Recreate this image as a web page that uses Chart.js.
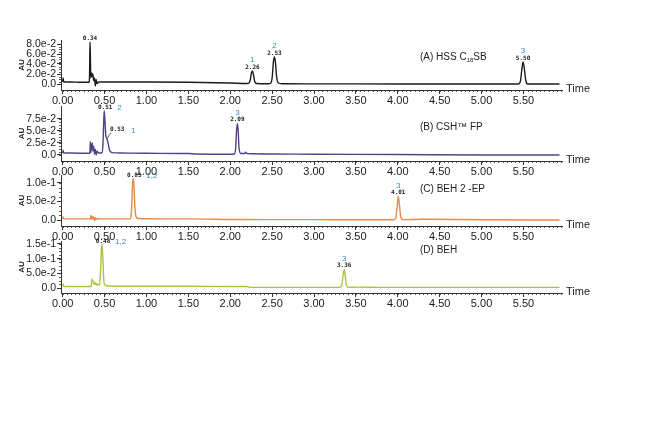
<!DOCTYPE html>
<html>
<head>
<meta charset="utf-8">
<script src="https://cdn.jsdelivr.net/npm/chart.js@4.4.1/dist/chart.umd.min.js"></script>
<style>
    html, body { margin: 0; padding: 0; background: #fff; }
    #wrap { position: relative; width: 658px; height: 447px; }
    #wrap canvas { position: absolute; left: 0; top: 0; }
</style>
</head>
<body>
<div id="wrap">
    <canvas id="panelA" width="658" height="447"></canvas>
    <canvas id="panelB" width="658" height="447"></canvas>
    <canvas id="panelC" width="658" height="447"></canvas>
    <canvas id="panelD" width="658" height="447"></canvas>
</div>
<script>
// --- DATA ---
const xTicks = [0, 0.5, 1, 1.5, 2, 2.5, 3, 3.5, 4, 4.5, 5, 5.5];
const xTickLabels = ['0.00', '0.50', '1.00', '1.50', '2.00', '2.50', '3.00', '3.50', '4.00', '4.50', '5.00', '5.50'];

const yTicksA = [0, 0.02, 0.04, 0.06, 0.08];
const yLabelsA = ['0.0', '2.0e-2', '4.0e-2', '6.0e-2', '8.0e-2'];
const yTicksB = [0, 0.025, 0.05, 0.075];
const yLabelsB = ['0.0', '2.5e-2', '5.0e-2', '7.5e-2'];
const yTicksC = [0, 0.05, 0.1];
const yLabelsC = ['0.0', '5.0e-2', '1.0e-1'];
const yTicksD = [0, 0.05, 0.1, 0.15];
const yLabelsD = ['0.0', '5.0e-2', '1.0e-1', '1.5e-1'];

// [time (min), AU]
const traceA = [
    [0.00, 0.004], [0.005, 0.012], [0.012, 0.005], [0.02, 0.004], [0.10, 0.004], [0.20, 0.0035], [0.31, 0.0035],
    [0.318, 0.004], [0.322, 0.03], [0.326, 0.084], [0.330, 0.06], [0.336, 0.012], [0.345, 0.022], [0.352, 0.015],
    [0.36, 0.02], [0.37, 0.007], [0.38, 0.012], [0.39, -0.004], [0.40, 0.009], [0.41, 0.001], [0.43, 0.004],
    [0.5, 0.004], [1.0, 0.004], [1.5, 0.0035], [2.0, 0.002], [2.2, 0.001], [2.225, 0.002], [2.24, 0.009],
    [2.252, 0.021], [2.265, 0.026], [2.278, 0.018], [2.292, 0.005], [2.31, 0.001], [2.45, 0.0005], [2.485, 0.002],
    [2.502, 0.015], [2.515, 0.044], [2.527, 0.054], [2.539, 0.044], [2.554, 0.014], [2.575, 0.002], [2.62, 0.0005],
    [3.0, 0.0003], [4.0, 0.0], [5.0, 0.0], [5.44, 0.0], [5.463, 0.005], [5.478, 0.025], [5.495, 0.044],
    [5.511, 0.03], [5.527, 0.008], [5.548, 0.0], [5.93, 0.0]
];
const traceB = [
    [0.00, 0.004], [0.005, 0.01], [0.012, 0.004], [0.1, 0.004], [0.3, 0.0035], [0.325, 0.004], [0.33, 0.028],
    [0.336, 0.005], [0.345, 0.02], [0.355, 0.025], [0.36, 0.008], [0.37, 0.018], [0.38, 0.002], [0.39, 0.012],
    [0.40, 0.0], [0.41, 0.008], [0.43, 0.004], [0.47, 0.005], [0.48, 0.02], [0.488, 0.06], [0.496, 0.092],
    [0.505, 0.07], [0.515, 0.04], [0.528, 0.034], [0.545, 0.022], [0.56, 0.01], [0.59, 0.005], [0.7, 0.004],
    [1.0, 0.0035], [1.5, 0.003], [1.6, 0.002], [2.0, 0.0015], [2.05, 0.002], [2.065, 0.015], [2.075, 0.05],
    [2.085, 0.065], [2.095, 0.05], [2.105, 0.015], [2.125, 0.003], [2.17, 0.003], [2.185, 0.006], [2.2, 0.003],
    [2.5, 0.002], [3.0, 0.0015], [4.0, 0.001], [5.0, 0.0], [5.93, 0.0]
];
const traceC = [
    [0.00, 0.003], [0.005, 0.009], [0.012, 0.003], [0.1, 0.003], [0.33, 0.003], [0.335, 0.012], [0.34, 0.002],
    [0.35, 0.01], [0.36, 0.003], [0.37, 0.008], [0.38, -0.002], [0.39, 0.006], [0.40, 0.001], [0.42, 0.004],
    [0.45, 0.003], [0.8, 0.003], [0.815, 0.008], [0.825, 0.04], [0.835, 0.1], [0.843, 0.112], [0.852, 0.09],
    [0.862, 0.035], [0.875, 0.01], [0.9, 0.004], [1.2, 0.003], [1.5, 0.003], [2.0, 0.0015], [2.5, 0.001],
    [3.0, 0.001], [3.5, 0.0005], [3.95, 0.0005], [3.975, 0.005], [3.99, 0.03], [4.005, 0.064], [4.02, 0.04],
    [4.035, 0.008], [4.06, 0.001], [4.3, 0.002], [5.0, 0.0005], [5.93, 0.0]
];
const traceD = [
    [0.00, 0.006], [0.005, 0.014], [0.012, 0.006], [0.1, 0.005], [0.34, 0.005], [0.35, 0.03], [0.36, 0.024],
    [0.37, 0.02], [0.38, 0.012], [0.39, 0.018], [0.40, 0.01], [0.41, 0.015], [0.425, 0.01], [0.44, 0.012],
    [0.452, 0.06], [0.462, 0.13], [0.47, 0.147], [0.48, 0.1], [0.49, 0.03], [0.505, 0.01], [0.55, 0.007],
    [1.0, 0.006], [1.5, 0.006], [2.0, 0.005], [2.2, 0.005], [2.22, 0.003], [2.5, 0.002], [3.0, 0.002],
    [3.3, 0.002], [3.33, 0.008], [3.345, 0.04], [3.36, 0.062], [3.375, 0.035], [3.39, 0.006], [3.42, 0.002],
    [3.5, 0.003], [3.8, 0.002], [4.5, 0.002], [5.0, 0.002], [5.93, 0.002]
];

// [apex time, apex AU, retention time label, peak number]
const peaksA = [[0.326, 0.084, '0.34', ''], [2.265, 0.026, '2.26', '1'], [2.527, 0.054, '2.53', '2'], [5.495, 0.044, '5.50', '3']];
const peaksB = [[0.496, 0.092, '0.51', '2'], [0.528, 0.034, '0.53', '1'], [2.085, 0.065, '2.09', '3']];
const peaksC = [[0.843, 0.112, '0.85', '1,2'], [4.005, 0.064, '4.01', '3']];
const peaksD = [[0.47, 0.147, '0.48', '1,2'], [3.36, 0.062, '3.36', '3']];

const titles = [['(A) HSS C', '18', 'SB'], ['(B) CSH\u2122 FP'], ['(C) BEH 2 -EP'], ['(D) BEH']];

// --- PANEL LAYOUT ---
const W = 658, H = 447;
const PAD_LEFT = 17, LEFT = 61, RIGHT = 562, X_AXIS_H = 16;
const FONT = '"Liberation Sans", Arial, sans-serif';
const panels = [
    { id: 'panelA', trace: traceA, color: '#1b1b1b', yTicks: yTicksA, yLabels: yLabelsA, yMin: -0.012, yMax: 0.088, top: 40, bottom: 90, peaks: peaksA, modes: ['top', 'top', 'top', 'top'], title: titles[0], titleY: 57 },
    { id: 'panelB', trace: traceB, color: '#54408a', yTicks: yTicksB, yLabels: yLabelsB, yMin: -0.0125, yMax: 0.102, top: 106, bottom: 161, peaks: peaksB, modes: ['side', 'leader', 'top'], title: titles[1], titleY: 127 },
    { id: 'panelC', trace: traceC, color: '#e88a48', yTicks: yTicksC, yLabels: yLabelsC, yMin: -0.0162, yMax: 0.1216, top: 175, bottom: 226, peaks: peaksC, modes: ['side', 'top'], title: titles[2], titleY: 189 },
    { id: 'panelD', trace: traceD, color: '#b2c040', yTicks: yTicksD, yLabels: yLabelsD, yMin: -0.017, yMax: 0.16, top: 241, bottom: 293, peaks: peaksD, modes: ['side', 'top'], title: titles[3], titleY: 250 }
];

// --- PLUGINS ---
const minorTicks = {
    id: 'minorTicks',
    afterDraw(chart) {
        const ctx = chart.ctx, xs = chart.scales.x, ys = chart.scales.y, area = chart.chartArea;
        ctx.save();
        ctx.strokeStyle = '#333';
        ctx.lineWidth = 0.8;
        ctx.beginPath();
        for (let i = 0; i <= 119; i++) {
            const px = Math.round(xs.getPixelForValue(i * 0.05)) + 0.5;
            ctx.moveTo(px, area.bottom);
            ctx.lineTo(px, area.bottom + 2);
        }
        const t = chart.options.panel.yTicks;
        const step = (t[1] - t[0]) / 4;
        const top = t[t.length - 1];
        for (let v = 0; v <= top + 1e-9; v += step) {
            const py = Math.round(ys.getPixelForValue(v)) + 0.5;
            ctx.moveTo(area.left, py);
            ctx.lineTo(area.left - 2, py);
        }
        ctx.stroke();
        ctx.restore();
    }
};

const annotations = {
    id: 'annotations',
    afterDatasetsDraw(chart) {
        const ctx = chart.ctx, xs = chart.scales.x, ys = chart.scales.y, area = chart.chartArea;
        const p = chart.options.panel;
        ctx.save();

        // peak labels
        p.peaks.forEach(([t, v, rt, no], i) => {
            const px = xs.getPixelForValue(t), py = ys.getPixelForValue(v);
            const mode = p.modes[i];
            ctx.textBaseline = 'middle';
            ctx.fillStyle = '#222';
            ctx.font = 'bold 6px "DejaVu Sans Mono", monospace';
            if (mode === 'top') {
                ctx.textAlign = 'center';
                ctx.fillText(rt, px, py - 4);
                ctx.fillStyle = '#3d8bb5';
                ctx.font = '8px ' + FONT;
                if (no) ctx.fillText(no, px, py - 11);
            } else if (mode === 'side') {
                ctx.textAlign = 'center';
                ctx.fillText(rt, px + 1, py - 3);
                ctx.fillStyle = '#3d8bb5';
                ctx.font = '8px ' + FONT;
                ctx.textAlign = 'left';
                ctx.fillText(no, px + 13, py - 3);
            } else {
                ctx.strokeStyle = '#222';
                ctx.lineWidth = 0.7;
                ctx.beginPath();
                ctx.moveTo(px, py);
                ctx.lineTo(px + 4, py - 6);
                ctx.stroke();
                ctx.textAlign = 'left';
                ctx.fillText(rt, px + 3, py - 9);
                ctx.fillStyle = '#3d8bb5';
                ctx.font = '8px ' + FONT;
                ctx.fillText(no, px + 24, py - 8);
            }
        });

        // panel title
        ctx.fillStyle = '#222';
        ctx.textAlign = 'left';
        ctx.textBaseline = 'middle';
        let tx = 420;
        p.title.forEach((part, i) => {
            const sub = i % 2 === 1;
            ctx.font = (sub ? '6px ' : '10px ') + FONT;
            ctx.fillText(part, tx, p.titleY + (sub ? 3 : 0));
            tx += ctx.measureText(part).width;
        });

        // "Time" axis label
        ctx.font = '11px ' + FONT;
        ctx.fillText('Time', area.right + 4, area.bottom - 1);
        ctx.restore();
    }
};

// --- CHART SETUP ---
function buildChart(p) {
    return new Chart(document.getElementById(p.id), {
        type: 'line',
        data: {
            datasets: [{
                data: p.trace.map(([x, y]) => ({ x, y })),
                borderColor: p.color,
                borderWidth: 1.4,
                pointRadius: 0,
                fill: false,
                cubicInterpolationMode: 'monotone'
            }]
        },
        options: {
            panel: p,
            responsive: false,
            animation: false,
            events: [],
            layout: { padding: { left: PAD_LEFT, right: W - RIGHT, top: p.top, bottom: H - p.bottom - X_AXIS_H } },
            plugins: { legend: { display: false }, tooltip: { enabled: false } },
            scales: {
                x: {
                    type: 'linear',
                    min: -0.02,
                    max: 5.96,
                    afterBuildTicks: axis => { axis.ticks = xTicks.map(value => ({ value })); },
                    afterFit: axis => { axis.height = X_AXIS_H; },
                    ticks: {
                        autoSkip: false,
                        maxRotation: 0,
                        padding: 0,
                        color: '#1a1a1a',
                        font: { family: FONT, size: 11 },
                        callback: (v, i) => xTickLabels[i]
                    },
                    grid: { drawOnChartArea: false, tickLength: 4, color: '#333' },
                    border: { color: '#333', width: 1 }
                },
                y: {
                    min: p.yMin,
                    max: p.yMax,
                    afterBuildTicks: axis => { axis.ticks = p.yTicks.map(value => ({ value })); },
                    afterFit: axis => { axis.width = LEFT - PAD_LEFT; },
                    ticks: {
                        autoSkip: false,
                        padding: 1,
                        color: '#1a1a1a',
                        font: { family: FONT, size: 10.5 },
                        callback: (v, i) => p.yLabels[i]
                    },
                    grid: { drawOnChartArea: false, tickLength: 4, color: '#333' },
                    border: { color: '#333', width: 1 },
                    title: { display: true, text: 'AU', color: '#222', padding: 0, font: { family: FONT, size: 8, weight: 'bold' } }
                }
            }
        },
        plugins: [minorTicks, annotations]
    });
}

panels.forEach(buildChart);
</script>
</body>
</html>
